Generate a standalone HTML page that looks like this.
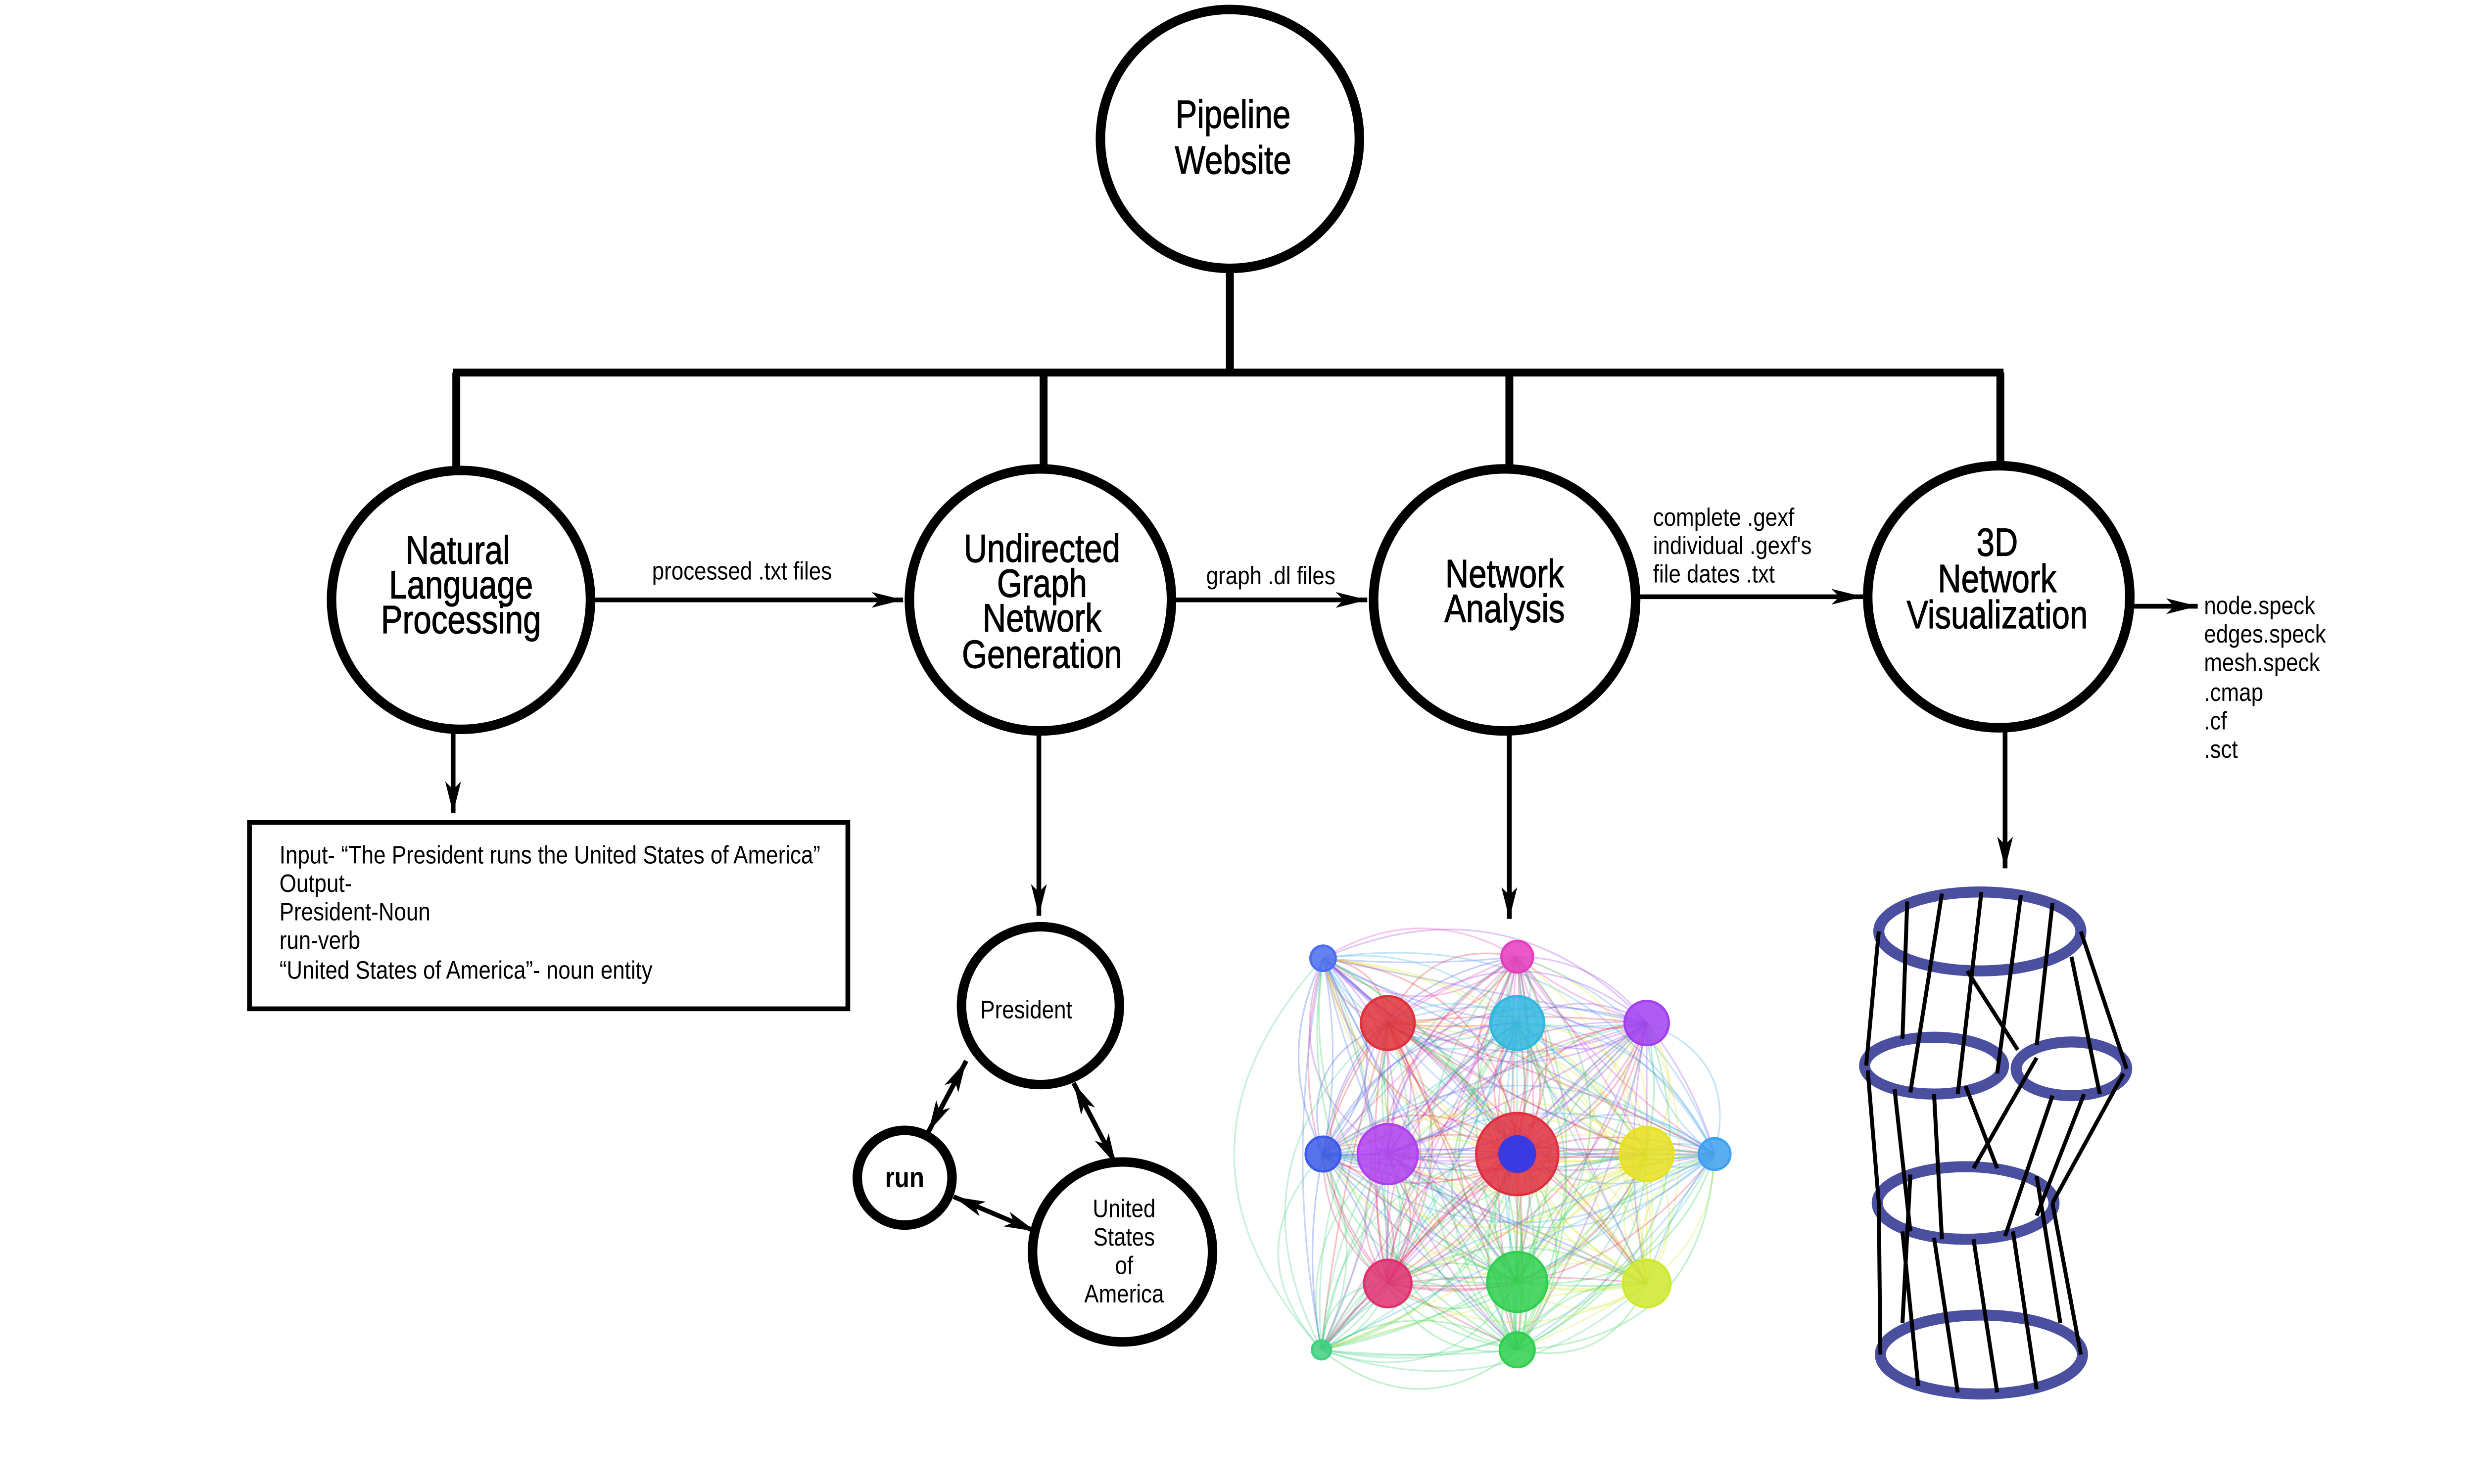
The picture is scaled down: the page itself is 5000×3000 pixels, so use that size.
<!DOCTYPE html>
<html><head><meta charset="utf-8"><style>
html,body{margin:0;padding:0;background:#fff;}
svg{display:block;}
text{font-family:"Liberation Sans Narrow","Liberation Sans",sans-serif;fill:#000;}
</style></head><body>
<svg id="root" width="5000" height="3000" viewBox="0 0 1567 940" preserveAspectRatio="none" xmlns="http://www.w3.org/2000/svg">
<defs>
<marker id="ah" viewBox="0 0 20 10" refX="20" refY="5" markerWidth="20" markerHeight="10" markerUnits="userSpaceOnUse" orient="auto-start-reverse"><path d="M0,0 L20,5 L0,10 L5,5 z" fill="#000"/></marker>
</defs>
<g stroke="#000" stroke-width="5" fill="none">
<line x1="779" y1="170" x2="779" y2="236"/>
<line x1="287" y1="236" x2="1269" y2="236"/>
<line x1="289" y1="236" x2="289" y2="298"/>
<line x1="661" y1="236" x2="661" y2="298"/>
<line x1="956" y1="236" x2="956" y2="298"/>
<line x1="1267" y1="236" x2="1267" y2="296"/>
</g>
<g stroke="#000" stroke-width="6" fill="#fff">
<circle cx="779" cy="88" r="82"/>
<circle cx="292" cy="380" r="82"/>
<circle cx="659" cy="380" r="83"/>
<circle cx="953" cy="380" r="83"/>
<circle cx="1266" cy="378" r="83"/>
</g>
<g font-size="25" text-anchor="middle" stroke="#000" stroke-width="0.4">
<text x="781" y="81">Pipeline</text><text x="781" y="110">Website</text>
<text x="290" y="357">Natural</text><text x="292" y="379">Language</text><text x="292" y="401">Processing</text>
<text x="660" y="356">Undirected</text><text x="660" y="378">Graph</text><text x="660" y="400">Network</text><text x="660" y="423">Generation</text>
<text x="953" y="372">Network</text><text x="953" y="394">Analysis</text>
<text x="1265" y="352">3D</text><text x="1265" y="375">Network</text><text x="1265" y="398">Visualization</text>
</g>
<g stroke="#000" stroke-width="3" marker-end="url(#ah)">
<line x1="376" y1="380" x2="572" y2="380"/>
<line x1="743" y1="380" x2="866" y2="380"/>
<line x1="1037" y1="378" x2="1180" y2="378"/>
<line x1="1350" y1="384" x2="1392" y2="384"/>
<line x1="287" y1="463" x2="287" y2="515"/>
<line x1="658" y1="464" x2="658" y2="580"/>
<line x1="956" y1="464" x2="956" y2="582"/>
<line x1="1270" y1="463" x2="1270" y2="550"/>
</g>
<g font-size="16" class="small">
<text x="413" y="367">processed .txt files</text>
<text x="764" y="370">graph .dl files</text>
<text x="1047" y="333">complete .gexf</text>
<text x="1047" y="351">individual .gexf's</text>
<text x="1047" y="369">file dates .txt</text>
<g>
<text x="1396" y="389">node.speck</text><text x="1396" y="407">edges.speck</text><text x="1396" y="425">mesh.speck</text>
<text x="1396" y="444">.cmap</text><text x="1396" y="462">.cf</text><text x="1396" y="480">.sct</text>
</g>
</g>
<rect x="158" y="521" width="379" height="118" fill="#fff" stroke="#000" stroke-width="3"/>
<g font-size="16" class="small">
<text x="177" y="547">Input- “The President runs the United States of America”</text>
<text x="177" y="565">Output-</text><text x="177" y="583">President-Noun</text>
<text x="177" y="601">run-verb</text><text x="177" y="620">“United States of America”- noun entity</text>
</g>
<g stroke="#000" stroke-width="3" marker-start="url(#ah)" marker-end="url(#ah)">
<line x1="612" y1="672" x2="588" y2="717"/>
<line x1="680" y1="686" x2="707" y2="738"/>
<line x1="604" y1="758" x2="656" y2="780"/>
</g>
<g stroke="#000" stroke-width="6" fill="#fff">
<circle cx="659" cy="637" r="50"/>
<circle cx="573" cy="746" r="30"/>
<circle cx="711" cy="793" r="57"/>
</g>
<g font-size="16" text-anchor="middle" class="small">
<text x="650" y="645">President</text>
<text x="573" y="752" font-weight="bold" font-size="18">run</text>
<text x="712" y="771">United</text><text x="712" y="789">States</text><text x="712" y="807">of</text><text x="712" y="825">America</text>
</g>
<g id="net"></g>
<g stroke="#4b4fa0" stroke-width="7" fill="none">
<ellipse cx="1254" cy="590" rx="64" ry="25"/>
<ellipse cx="1225" cy="675" rx="44" ry="18"/>
<ellipse cx="1312" cy="677" rx="35" ry="17"/>
<ellipse cx="1245" cy="762" rx="56" ry="23"/>
<ellipse cx="1255" cy="858" rx="64" ry="25"/>
</g>
<g stroke="#000" stroke-width="2.5">
<line x1="1190" y1="590" x2="1182" y2="675"/><line x1="1208" y1="571" x2="1205" y2="658"/>
<line x1="1230" y1="566" x2="1210" y2="692"/><line x1="1255" y1="565" x2="1240" y2="693"/>
<line x1="1280" y1="567" x2="1265" y2="680"/><line x1="1300" y1="572" x2="1290" y2="662"/>
<line x1="1318" y1="590" x2="1347" y2="677"/><line x1="1312" y1="606" x2="1330" y2="693"/>
<line x1="1246" y1="615" x2="1278" y2="665"/>
<line x1="1183" y1="678" x2="1190" y2="762"/><line x1="1200" y1="690" x2="1210" y2="780"/>
<line x1="1225" y1="693" x2="1230" y2="785"/><line x1="1245" y1="688" x2="1265" y2="740"/>
<line x1="1300" y1="694" x2="1270" y2="783"/><line x1="1320" y1="693" x2="1290" y2="770"/>
<line x1="1345" y1="680" x2="1300" y2="762"/><line x1="1290" y1="670" x2="1250" y2="740"/>
<line x1="1190" y1="762" x2="1191" y2="858"/><line x1="1205" y1="780" x2="1215" y2="878"/>
<line x1="1225" y1="784" x2="1240" y2="882"/><line x1="1250" y1="785" x2="1265" y2="882"/>
<line x1="1275" y1="780" x2="1290" y2="880"/><line x1="1300" y1="762" x2="1318" y2="858"/>
<line x1="1290" y1="745" x2="1305" y2="838"/><line x1="1210" y1="744" x2="1205" y2="838"/>
</g>
</svg>
<script>
const nodeX=[838,961,879,961,1043,838,879,961,1043,1086,879,961,1043,837,961];
const nodeY=[607,606,648,648,648,731,731,731,731,731,813,812,813,855,855];
const nodeR=[8,10,17,17,14,11,19,26,17,10,15,19,15,6,11];
const nodeC=["#4a6ef0","#e83cc0","#e0303a","#30b8e0","#a040f0","#3a5ae8","#b040f0","#e03040","#e8e020","#40a0f0","#e03070","#30d050","#d0e830","#40d080","#30d050"];
const NS="http://www.w3.org/2000/svg";
const net=document.getElementById('net');
for(let i=0;i<nodeX.length;i++){for(let j=i+1;j<nodeX.length;j++){for(let k=0;k<3;k++){
const p=document.createElementNS(NS,'path');
const mx=(nodeX[i]+nodeX[j])/2, my=(nodeY[i]+nodeY[j])/2;
const dx=nodeX[j]-nodeX[i], dy=nodeY[j]-nodeY[i];
const f=(k-1)*0.35+((i*7+j*3)%5-2)*0.05;
p.setAttribute('d',`M${nodeX[i]},${nodeY[i]} Q${mx-dy*f},${my+dx*f} ${nodeX[j]},${nodeY[j]}`);
p.setAttribute('stroke',nodeC[(k%2)?i:j]);p.setAttribute('stroke-width','1');p.setAttribute('fill','none');p.setAttribute('opacity','0.3');


net.appendChild(p);}}}
for(let i=0;i<nodeX.length;i++){
const c=document.createElementNS(NS,'circle');
c.setAttribute('cx',nodeX[i]);c.setAttribute('cy',nodeY[i]);c.setAttribute('r',nodeR[i]);
c.setAttribute('fill',nodeC[i]);c.setAttribute('stroke',nodeC[i]);c.setAttribute('stroke-width','1.5');c.setAttribute('fill-opacity','0.85');


net.appendChild(c);}
const inner=document.createElementNS(NS,'circle');
inner.setAttribute('cx',961);inner.setAttribute('cy',731);inner.setAttribute('r',12);inner.setAttribute('fill','#3a3ae0');


net.appendChild(inner);
// condense text to mimic narrow font
document.querySelectorAll('#root text').forEach(t=>{
const w=t.getComputedTextLength();
const f=t.closest('.small')?0.86:0.82;
if(w>0){t.setAttribute('textLength',(w*f).toFixed(1));t.setAttribute('lengthAdjust','spacingAndGlyphs');}
});
</script>
</body></html>
